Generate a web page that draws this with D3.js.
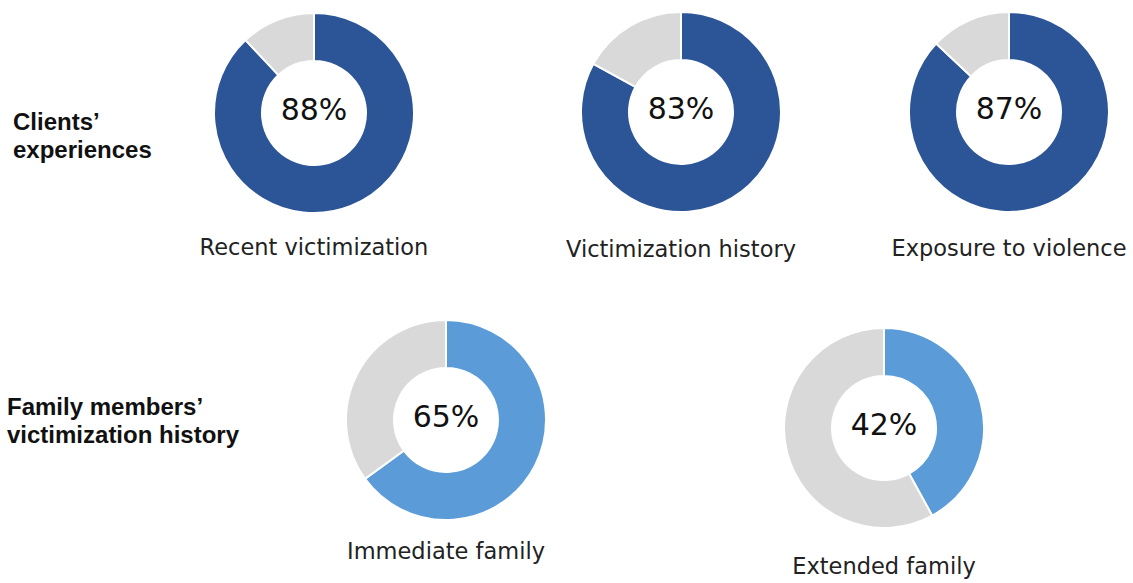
<!DOCTYPE html>
<html lang="en">
<head>
<meta charset="UTF-8">
<title>Victimization donuts</title>
<style>
  body { margin: 0; background: #fff; }
  .pct { font-family: "DejaVu Sans", sans-serif; font-size: 30px; fill: #111; }
  .lbl { font-family: "DejaVu Sans", sans-serif; font-size: 22.5px; fill: #222; }
  .grp { font-family: "Liberation Sans", Arial, sans-serif; font-size: 24px; font-weight: bold; fill: #111; }
</style>
<script src="https://cdn.jsdelivr.net/npm/d3@7"></script>
</head>
<body>
<script>
// data
var names = ["Recent victimization", "Victimization history", "Exposure to violence",
             "Immediate family", "Extended family"];
var values = [88, 83, 87, 65, 42];
var rowOf = [0, 0, 0, 1, 1];
var groupLabels = [["Clients\u2019", "experiences"], ["Family members\u2019", "victimization history"]];

var W = 1133, H = 583;
var svg = d3.select("body").append("svg").attr("width", W).attr("height", H);

// layout
var cx = [314, 681, 1009, 446, 884];
var cy = [113, 112, 112, 420, 428];
var labelY = [255, 257, 256, 559, 574];
var R = 100, r = 52;
var colors = ["#2c5597", "#5b9bd8"];
var grey = "#d9d9d9";

var pie = d3.pie().sort(null).value(function(d) { return d; });
var arc = d3.arc().innerRadius(r).outerRadius(R);

values.forEach(function(v, i) {
  var g = svg.append("g").attr("transform", "translate(" + cx[i] + "," + cy[i] + ")");
  g.selectAll("path")
    .data(pie([v, 100 - v]))
    .enter().append("path")
    .attr("d", arc)
    .attr("fill", function(d, j) { return j === 0 ? colors[rowOf[i]] : grey; })
    .attr("stroke", "#fff")
    .attr("stroke-width", 2);
  g.append("text").attr("class", "pct")
    .attr("text-anchor", "middle").attr("y", 7)
    .text(v + "%");
  svg.append("text").attr("class", "lbl")
    .attr("x", cx[i]).attr("y", labelY[i])
    .attr("text-anchor", "middle")
    .text(names[i]);
});

// row titles
var gx = [13, 7], gy = [130, 415];
groupLabels.forEach(function(lines, k) {
  var t = svg.append("text").attr("class", "grp").attr("x", gx[k]).attr("y", gy[k]);
  lines.forEach(function(s, j) {
    t.append("tspan").attr("x", gx[k]).attr("dy", j === 0 ? 0 : 28).text(s);
  });
});
</script>
</body>
</html>
